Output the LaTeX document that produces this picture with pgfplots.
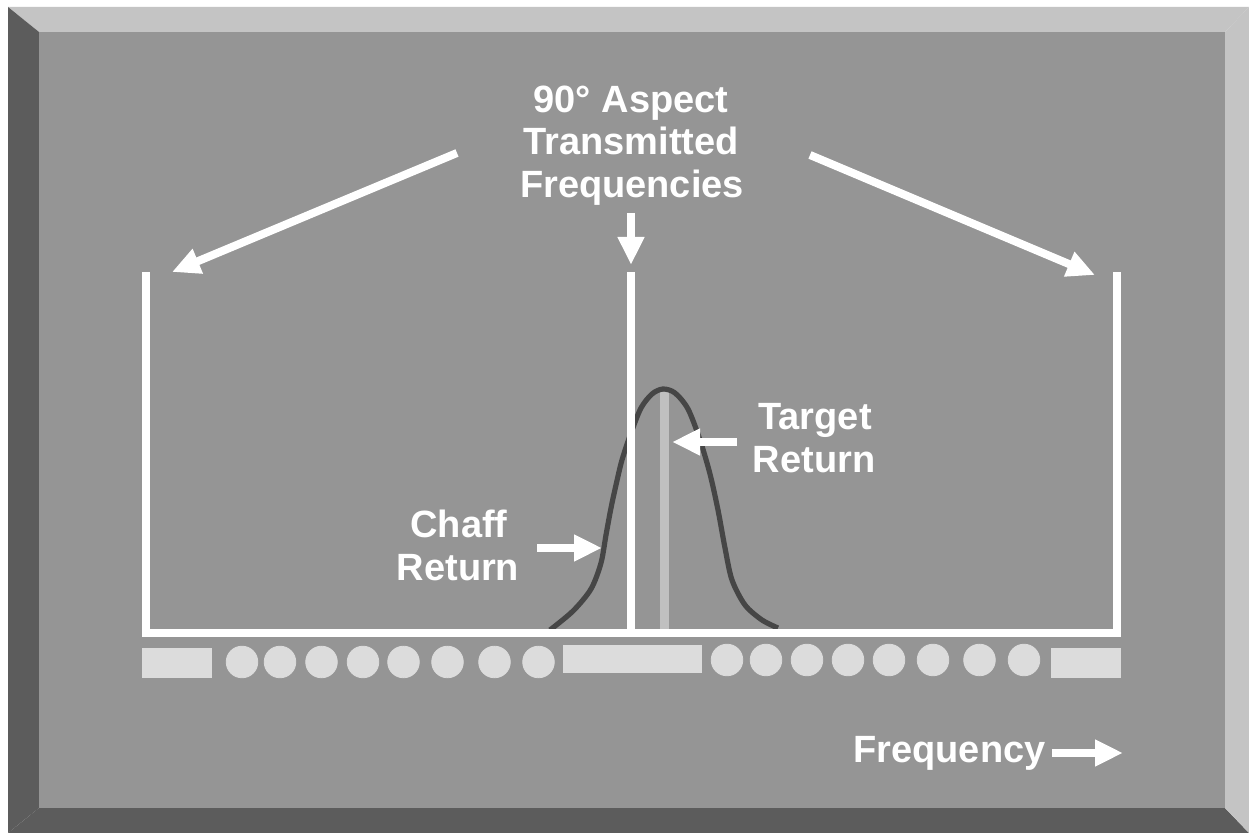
\documentclass[border=0pt]{standalone}
\usepackage{fontspec}
\setmainfont{Liberation Sans}
\usepackage{pgfplots}
\pgfplotsset{compat=1.18}
\usetikzlibrary{arrows.meta}
\definecolor{face}{RGB}{149,149,149}
\definecolor{lightbev}{RGB}{196,196,196}
\definecolor{darkbev}{RGB}{92,92,92}
\definecolor{chip}{RGB}{220,220,220}
\definecolor{curvec}{RGB}{70,70,70}
\definecolor{targetc}{RGB}{192,192,192}
\tikzset{
  arr/.style={draw=white, line width=4pt, -{Triangle[length=14pt,width=12.5pt]}},
  lab/.style={text=white, inner sep=0pt, anchor=base, font=\fontsize{19}{21}\selectfont\bfseries}}
\begin{document}
\begin{tikzpicture}
\begin{axis}[scale only axis, width=624.5pt, height=416.5pt,
  xmin=0, xmax=1249, ymin=0, ymax=833, y dir=reverse,
  hide axis, clip=false]
% background
\addplot[fill=white, draw=none] coordinates {(0,0) (1249,0) (1249,833) (0,833)} -- cycle;
% bevels
\addplot[fill=lightbev, draw=none] coordinates {(8,7) (1249,7) (1225,32) (39,32)} -- cycle;
\addplot[fill=darkbev, draw=none] coordinates {(8,7) (39,32) (39,808) (8,833)} -- cycle;
\addplot[fill=darkbev, draw=none] coordinates {(8,833) (39,808) (1225,808) (1249,833)} -- cycle;
\addplot[fill=lightbev, draw=none] coordinates {(1249,7) (1225,32) (1225,808) (1249,833)} -- cycle;
\addplot[fill=face, draw=none] coordinates {(39,32) (1225,32) (1225,808) (39,808)} -- cycle;
% target return line
\addplot[draw=targetc, line width=4.5pt] coordinates {(664,392) (664,630)};
% chaff return curve
\addplot[draw=curvec, line width=2.6pt, smooth, tension=0.5] coordinates {
 (550,630) (573,611) (591,589) (601,563) (606,535) (611,508) (616,485) (622,460)
 (631,433) (641,408) (652,394) (663,389) (675,393) (688,409) (700,440) (710,474)
 (718,510) (725,548) (732,580) (745,605) (762,620) (778,628)};
% transmitted frequency lines and baseline
\addplot[draw=white, line width=4pt, line join=miter] coordinates {(146,272) (146,633.5) (1117,633.5) (1117,272)};
\addplot[draw=white, line width=4pt] coordinates {(631,272) (631,633.5)};
% rectangles
\addplot[fill=chip, draw=none] coordinates {(142,648) (212,648) (212,678) (142,678)} -- cycle;
\addplot[fill=chip, draw=none] coordinates {(563,645) (702,645) (702,673) (563,673)} -- cycle;
\addplot[fill=chip, draw=none] coordinates {(1051,648) (1121,648) (1121,678) (1051,678)} -- cycle;
% circles
\addplot[only marks, mark=*, mark size=7.9pt, color=chip] coordinates {
 (242,662) (280,662) (321.5,662) (363,662) (403.5,662) (447.5,662) (494.5,662) (538.5,662)
 (727,660) (766,660) (807,660) (848,660) (889,660) (933,660) (979.5,660) (1024,660)};
% arrows
\addplot[arr] coordinates {(457,153) (172,272)};
\addplot[arr] coordinates {(810,155) (1095,275)};
\addplot[arr] coordinates {(631,213) (631,265)};
\addplot[arr] coordinates {(537,548) (602,548)};
\addplot[arr] coordinates {(737,442) (672,442)};
\addplot[arr] coordinates {(1052,753) (1123,753)};
% labels
\node[lab] at (axis cs:631,113) {90° Aspect};
\node[lab] at (axis cs:631,155) {Transmitted};
\node[lab] at (axis cs:632,198) {Frequencies};
\node[lab] at (axis cs:815,430) {Target};
\node[lab] at (axis cs:814,473) {Return};
\node[lab] at (axis cs:459,538) {Chaff};
\node[lab] at (axis cs:458,581) {Return};
\node[lab, anchor=base west] at (axis cs:853,763) {Frequency};
\end{axis}
\end{tikzpicture}
\end{document}
